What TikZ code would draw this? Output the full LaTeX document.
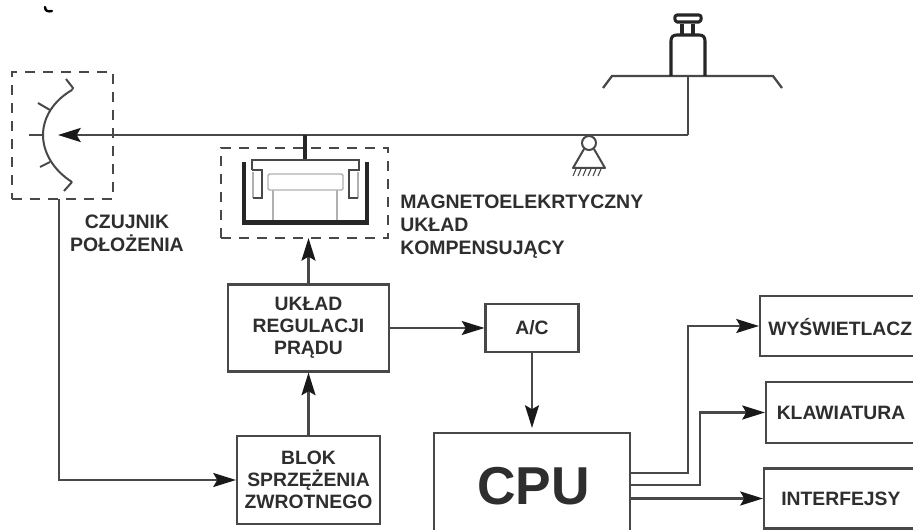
\documentclass[tikz,border=0pt]{standalone}
\usepackage{fontspec}
\setmainfont{Liberation Sans}
\usetikzlibrary{arrows.meta}
\definecolor{ln}{HTML}{484848}
\definecolor{tx}{HTML}{2E2E2E}
\definecolor{lt}{HTML}{B0B0B0}
\tikzset{
  wire/.style={draw=ln,line width=1.7pt,line join=miter},
  arr/.style={wire,-{Stealth[length=17pt,width=10.5pt,inset=3pt,color=black!90]}},
  blockbox/.style={draw=ln,line width=1.6pt,inner sep=0pt,align=center,text=tx,font=\bfseries\fontsize{14.5}{16.7}\selectfont},
  dashbox/.style={draw=ln,line width=1.7pt,dash pattern=on 7.5pt off 6pt,inner sep=0pt},
  lab/.style={text=tx,inner sep=0pt,align=left,font=\bfseries\fontsize{14.6}{17.2}\selectfont},
  single/.style={text=tx,inner sep=0pt,anchor=west,font=\bfseries\fontsize{14.5}{17}\selectfont},
  thick part/.style={draw=black!85,line width=3.4pt},
  mid part/.style={draw=ln,line width=1.5pt},
  thin part/.style={draw=lt,line width=1.1pt},
  weight part/.style={draw=black!85,line width=2.3pt,line join=round},
}
\begin{document}
\begin{tikzpicture}[x=0.75pt,y=-0.75pt]
\clip (0,0) rectangle (913,530);
\fill[white] (0,0) rectangle (913,530);
% stray mark at the top
\draw[black,line width=1.8pt,line cap=round] (45,7) .. controls (45,11) and (48,12) .. (52,11);
% boxes
\node[dashbox,minimum width=75.75pt,minimum height=95.25pt] (sens) at (62.5,135.5) {};
\node[dashbox,minimum width=125.25pt,minimum height=67.5pt] (mag) at (304.5,193) {};
\node[blockbox,minimum width=120.75pt,minimum height=65.25pt] (reg) at (308.5,328) {UKŁAD\\REGULACJI\\PRĄDU};
\node[blockbox,minimum width=107.25pt,minimum height=66pt] (blok) at (308.5,480) {BLOK\\SPRZĘŻENIA\\ZWROTNEGO};
\node[blockbox,minimum width=69.75pt,minimum height=36pt] (ac) at (532,328) {A/C};
\node[blockbox,minimum width=147pt,minimum height=90pt] (cpu) at (532,493) {};
\node[text=tx,inner sep=0pt,font=\bfseries\fontsize{40}{44}\selectfont] (cpulabel) at (533.5,486) {CPU};
\node[blockbox,minimum width=165pt,minimum height=45pt] (wysbox) at (870,326) {};
\node[single] (wys) at (768,327) {WYŚWIETLACZ};
\node[blockbox,minimum width=165pt,minimum height=46pt] (klabox) at (876,412.5) {};
\node[single] (kla) at (776.5,413) {KLAWIATURA};
\node[blockbox,minimum width=165pt,minimum height=45pt] (intbox) at (874,498.5) {};
\node[single] (int) at (781,499) {INTERFEJSY};
% labels
\node[lab,align=center] (czu) at (127,233.5) {CZUJNIK\\POŁOŻENIA};
\node[lab,anchor=west] (mlab) at (400,227) {MAGNETOELEKRTYCZNY\\UKŁAD\\KOMPENSUJĄCY};
% free ends
\coordinate (bend) at (688,135);
\coordinate (tip) at (58,135);
\coordinate (sout) at (59,199);
\coordinate (cpuA) at (630,473);
\coordinate (cpuB) at (630,485);
\coordinate (cpuC) at (630,498.5);
\coordinate (magin) at (308.5,238);
\coordinate (panjoin) at (688,76);
% connectors
\draw[wire] (panjoin) -- (bend);
\draw[arr] (bend) -- (tip);
\draw[arr] (sout) |- (blok.west);
\draw[arr] (blok.north) -- (reg.south);
\draw[arr] (reg.north) -- (magin);
\draw[arr] (reg.east) -- (ac.west);
\draw[arr] (ac.south) -- ([yshift=3pt]ac.south |- cpu.north);
\draw[arr] (cpuA) -- ++(58,0) |- (wysbox.west);
\draw[arr] (cpuB) -- ++(70,0) |- (klabox.west);
\draw[arr] (cpuC) -- (intbox.west);
% position sensor scale
\draw[mid part] (72,90) .. controls (53,101) and (43,118) .. (43,135) .. controls (43,152) and (53,170) .. (72,182);
\draw[mid part] (66,79) -- (73,88) -- (72,90);
\draw[mid part] (38,103) -- (50,110);
\draw[mid part] (29,135) -- (43,135);
\draw[mid part] (40,167) -- (50,162);
\draw[mid part] (64,191) -- (72,182);
% compensating system
\draw[thick part] (305,135) -- (305,160);
\draw[thin part] (253,172) -- (253,198);
\draw[thin part] (358,172) -- (358,198);
\draw[thin part,rounded corners=1pt] (268,174) rectangle (343,190);
\draw[thin part] (273,190) -- (273,221);
\draw[thin part] (337,190) -- (337,221);
\draw[thick part,line join=miter] (244,162) -- (244,222.5) -- (367,222.5) -- (367,162);
\draw[mid part] (252,170) -- (252,160) -- (359,160) -- (359,170) -- (349,170) -- (349,198) -- (358,198);
\draw[mid part] (252,170) -- (262,170) -- (262,198) -- (253,198);
% balance pan and weight
\draw[wire] (603,88) -- (612,76) -- (773,76) -- (782,88);
\draw[weight part] (671,76) -- (671,41) .. controls (671,37) and (673,35) .. (677,35) -- (699,35) .. controls (703,35) and (705,37) .. (705,41) -- (705,76);
\draw[weight part] (682,35) -- (682,24) (693,35) -- (693,24);
\draw[weight part,fill=white] (677,15) -- (699,15) .. controls (702,15) and (702,21) .. (699,22) -- (677,22) .. controls (674,21) and (674,15) .. (677,15) -- cycle;
% pivot
\draw[mid part,fill=white] (589,143) circle[radius=7];
\draw[mid part,line join=round] (584,149) -- (573,168) -- (605,168) -- (594,149);
\foreach \hx in {576,581,586,591,596,601}{
  \draw[draw=ln,line width=0.8pt] (\hx,169) -- (\hx-3,176);
}
\end{tikzpicture}
\end{document}
